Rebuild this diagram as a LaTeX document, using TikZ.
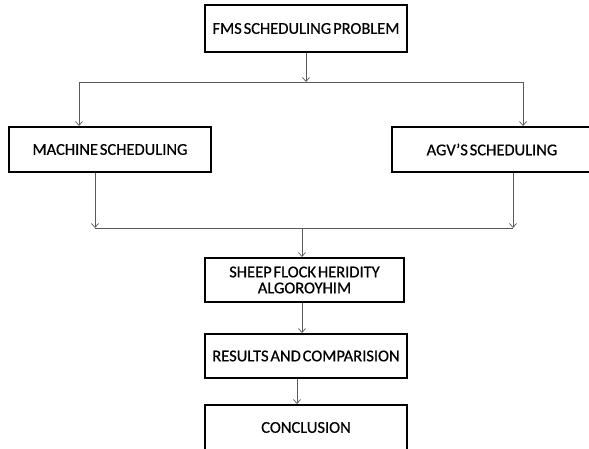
\documentclass[tikz,border=0pt]{standalone}
\usepackage{fontspec}
\setmainfont{Carlito}[WordSpace=0.5,FakeBold=0.6]
\usetikzlibrary{arrows.meta}
\begin{document}
\begin{tikzpicture}[x=1pt,y=-1pt,
  box/.style={draw=black,line width=2pt,fill=white,minimum height=45pt,inner sep=0pt,font=\fontsize{16.5}{18}\selectfont,align=center},
  conn/.style={draw=black!65,line width=0.8pt},
  arr/.style={conn,-{Straight Barb[length=4pt,width=7pt,line width=0.7pt]}}]
\clip (0,0) rectangle (589,448);
\fill[white] (0,0) rectangle (589,448);
\node[box,minimum width=202pt,minimum height=47pt] (fms) at (306,28.5) {FMS SCHEDULING PROBLEM};
\node[box,minimum width=202pt] (mach) at (110,149.5) {MACHINE SCHEDULING};
\node[box,minimum width=200pt] (agv) at (492,149.5) {AGV’S SCHEDULING};
\node[box,minimum width=199pt,minimum height=44pt] (sheep) at (304.5,280) {SHEEP FLOCK HERIDITY\\[-2pt]ALGOROYHIM};
\node[box,minimum width=202pt,minimum height=44pt] (res) at (306,356) {RESULTS AND COMPARISION};
\node[box,minimum width=202pt] (conc) at (306,427.5) {CONCLUSION};
\coordinate (tl) at (79,82);
\coordinate (tr) at (523,82);
\coordinate (bl) at (95,228);
\coordinate (br) at (513,228);
\coordinate (bm) at (302,228);
\draw[conn] (tl) -- (tr);
\draw[arr] (fms.south) -- (fms.south |- tl);
\draw[arr] (tl) -- (tl |- mach.north);
\draw[arr] (tr) -- (tr |- agv.north);
\draw[conn] (bl) -- (br);
\draw[arr] (bl |- mach.south) -- (bl);
\draw[arr] (br |- agv.south) -- (br);
\draw[arr] (bm) -- (bm |- sheep.north);
\draw[arr] (bm |- sheep.south) -- (bm |- res.north);
\draw[arr] ([xshift=-9pt]res.south) -- ([xshift=-9pt]res.south |- conc.north);
\end{tikzpicture}
\end{document}
